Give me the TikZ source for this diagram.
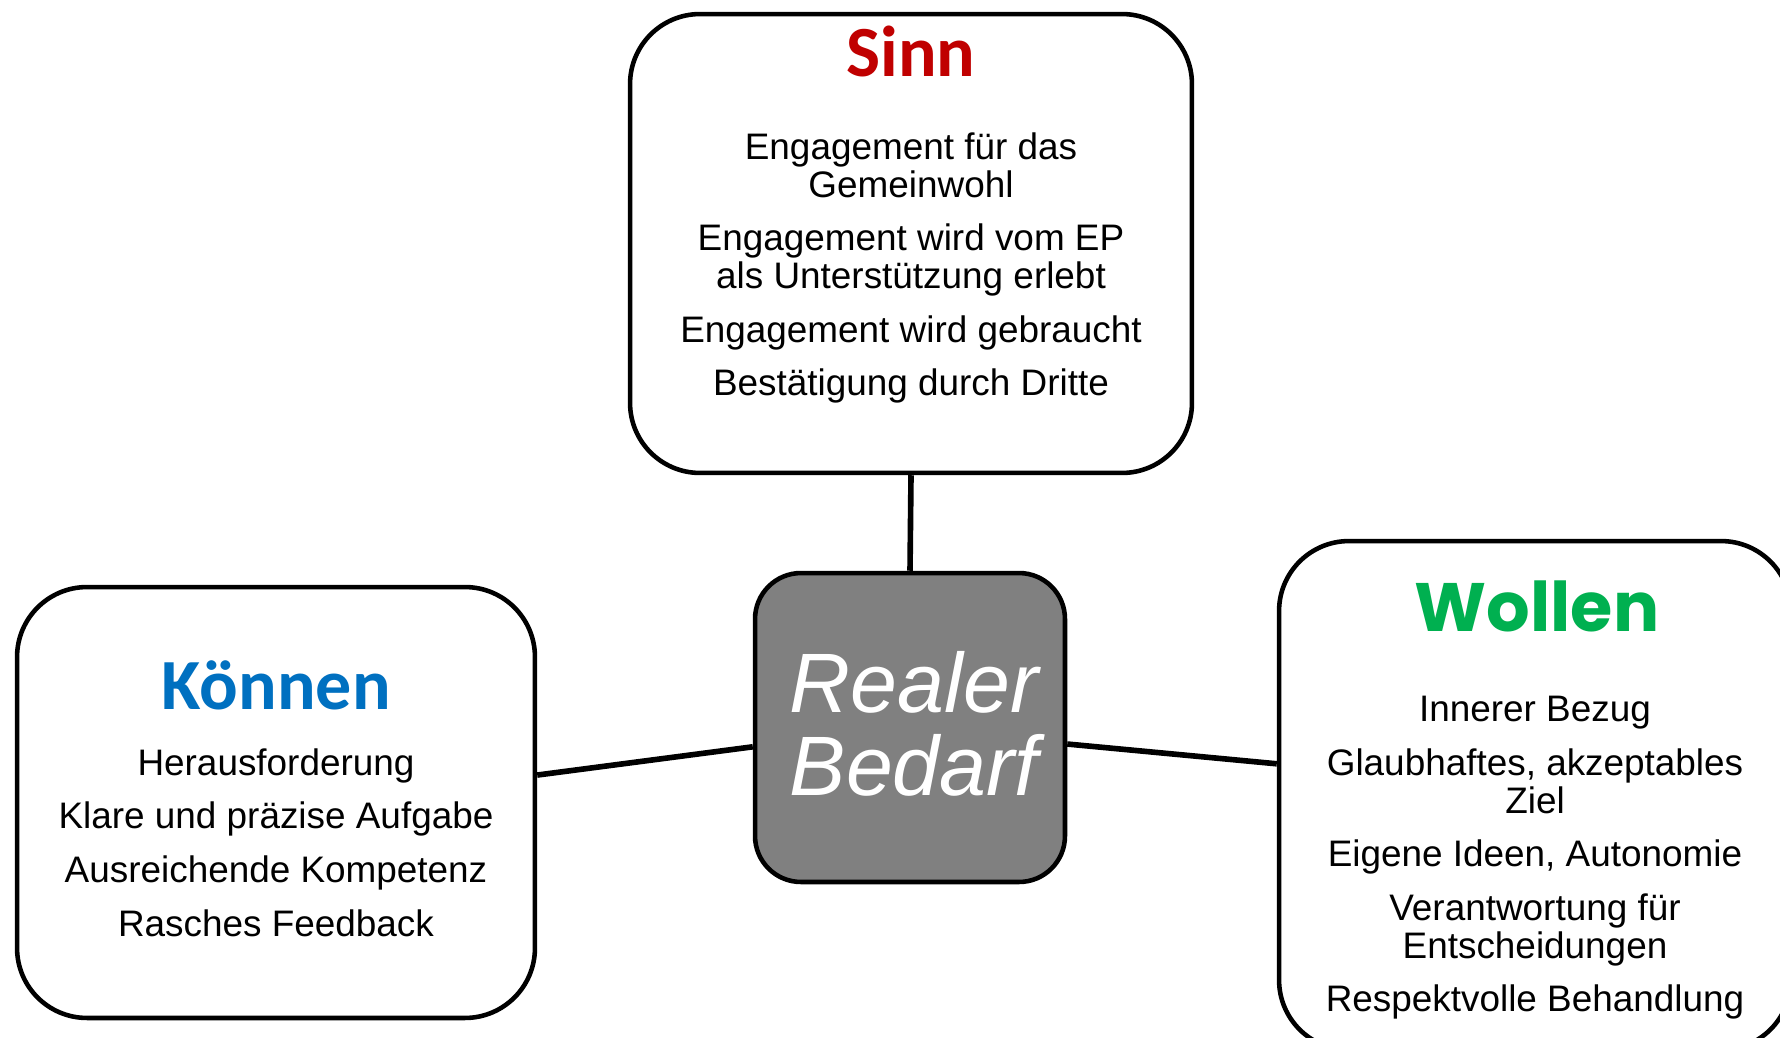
\documentclass[tikz,border=0pt]{standalone}
\usepackage{fontspec}
\setmainfont{Liberation Sans}
\newfontfamily\headfont{Carlito}
\newfontfamily\roundhead{Poppins}
\definecolor{sinnred}{RGB}{192,0,0}
\definecolor{koennenblue}{RGB}{0,112,192}
\definecolor{wollengreen}{RGB}{0,176,80}

\begin{document}
\begin{tikzpicture}[x=0.02cm, y=-0.02cm,
   box/.style={draw, line width=2.6pt, rounded corners=1.4cm, fill=white, inner sep=0pt},
   head/.style={font=\headfont\bfseries\fontsize{41}{41}\selectfont, inner sep=0pt, anchor=base},
   items/.style={font=\fontsize{21}{21.6}\selectfont, align=center, inner sep=0pt, anchor=north},
   link/.style={line width=3.2pt}]
   \clip (0,0) rectangle (1780,1037);

   % the four boxes
   \node[box, minimum width=11.24cm, minimum height=9.18cm] (sinn) at (911,243.5) {};
   \node[box, minimum width=10.36cm, minimum height=8.62cm] (koennen) at (276,802.5) {};
   \node[box, minimum width=10.24cm, minimum height=10.18cm] (wollen) at (1535,795.5) {};
   \node[box, fill=gray, rounded corners=0.92cm, minimum width=6.2cm, minimum height=6.18cm] (bedarf) at (910,727.5) {};

   % connectors
   \draw[link] (sinn.south) -- (bedarf.north);
   \draw[link] (koennen.6.7) -- (bedarf.187);
   \draw[link] (bedarf.-6) -- (wollen.173);

   % centre
   \node[white, align=center, inner sep=0pt, anchor=north,
      font=\itshape\fontsize{48}{47.2}\selectfont] (bedarftext) at (914,651) {Realer\\Bedarf};

   % Sinn
   \node[head, text=sinnred] (sinnhead) at (911,77) {Sinn};
   \node[items] (sinnitems) at (911,132.2) {Engagement für das\\Gemeinwohl\\[8.9pt]
      Engagement wird vom EP\\als Unterstützung erlebt\\[8.9pt]
      Engagement wird gebraucht\\[8.9pt]
      Bestätigung durch Dritte};

   % Können
   \node[head, text=koennenblue] (koennenhead) at (276,709) {Können};
   \node[items] (koennenitems) at (276,748.2) {Herausforderung\\[8.9pt]
      Klare und präzise Aufgabe\\[8.9pt]
      Ausreichende Kompetenz\\[8.9pt]
      Rasches Feedback};

   % Wollen
   \node[head, text=wollengreen, font=\roundhead\bfseries\fontsize{39}{39}\selectfont] (wollenhead) at (1537,631) {Wollen};
   \node[items] (wollenitems) at (1535,696) {Innerer Bezug\\[8.9pt]
      Glaubhaftes, akzeptables\\Ziel\\[8.9pt]
      Eigene Ideen, Autonomie\\[8.9pt]
      Verantwortung für\\Entscheidungen\\[8.9pt]
      Respektvolle Behandlung};
\end{tikzpicture}
\end{document}
